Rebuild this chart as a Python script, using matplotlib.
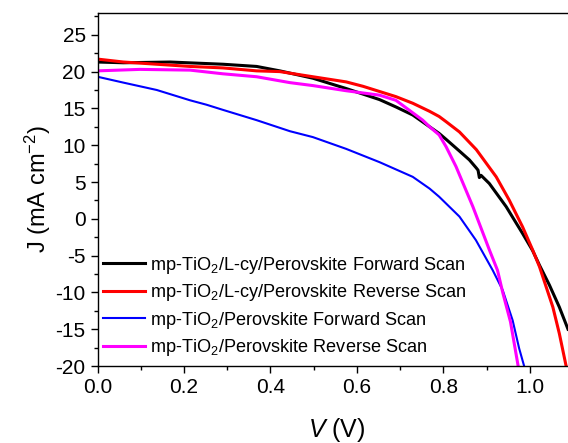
import matplotlib
matplotlib.use("Agg")
import matplotlib.pyplot as plt
from matplotlib.ticker import MultipleLocator

plt.rcParams['font.family'] = ['Liberation Sans', 'DejaVu Sans']
plt.rcParams['mathtext.fontset'] = 'custom'
plt.rcParams['mathtext.rm'] = 'Liberation Sans'
plt.rcParams['mathtext.it'] = 'Liberation Sans:italic'
plt.rcParams['axes.unicode_minus'] = False

# mp-TiO2/L-cy/Perovskite Forward Scan
v_lcy_fwd = [0.0, 0.06, 0.168, 0.29, 0.368, 0.4215, 0.498, 0.575, 0.652, 0.69, 0.729,
             0.768, 0.79, 0.806, 0.837, 0.86, 0.876, 0.880, 0.883, 0.887, 0.906, 0.945,
             0.983, 1.006, 1.022, 1.045, 1.068, 1.088]
j_lcy_fwd = [21.3, 21.2, 21.3, 21.0, 20.7, 20.1, 19.1, 17.7, 16.2, 15.2, 14.1,
             12.5, 11.6, 10.8, 9.2, 8.0, 6.9, 6.6, 5.6, 5.9, 4.8, 1.65,
             -2.0, -4.3, -6.3, -9.0, -12.0, -15.0]

# mp-TiO2/L-cy/Perovskite Reverse Scan
v_lcy_rev = [0.0, 0.06, 0.137, 0.214, 0.29, 0.368, 0.4215, 0.498, 0.575, 0.614, 0.652,
             0.69, 0.729, 0.768, 0.79, 0.806, 0.837, 0.876, 0.922, 0.952, 0.983, 1.006,
             1.022, 1.053, 1.068, 1.084]
j_lcy_rev = [21.7, 21.3, 21.0, 20.7, 20.5, 20.1, 20.0, 19.3, 18.6, 18.0, 17.3,
             16.6, 15.7, 14.6, 13.9, 13.2, 11.8, 9.4, 5.7, 2.55, -1.1, -4.2,
             -6.5, -12.0, -15.6, -20.1]

# mp-TiO2/Perovskite Forward Scan
v_ref_fwd = [0.0, 0.06, 0.137, 0.214, 0.252, 0.29, 0.368, 0.445, 0.498, 0.575, 0.652,
             0.729, 0.768, 0.79, 0.837, 0.875, 0.914, 0.937, 0.96, 0.975, 0.987]
j_ref_fwd = [19.3, 18.5, 17.5, 16.1, 15.5, 14.8, 13.4, 11.9, 11.1, 9.5, 7.7,
             5.7, 4.1, 3.0, 0.3, -2.9, -7.0, -9.7, -13.8, -17.6, -20.1]

# mp-TiO2/Perovskite Reverse Scan
v_ref_rev = [0.0, 0.098, 0.214, 0.29, 0.368, 0.445, 0.498, 0.575, 0.652, 0.69, 0.729,
             0.752, 0.768, 0.79, 0.806, 0.829, 0.868, 0.906, 0.925, 0.937, 0.955, 0.973]
j_ref_rev = [20.1, 20.3, 20.2, 19.7, 19.3, 18.5, 18.1, 17.4, 16.8, 16.1, 14.4,
             13.4, 12.5, 11.4, 9.8, 7.1, 1.65, -4.2, -7.0, -10.0, -14.0, -20.1]

labels = ["mp-TiO$_2$/L-cy/Perovskite Forward Scan",
          "mp-TiO$_2$/L-cy/Perovskite Reverse Scan",
          "mp-TiO$_2$/Perovskite Forward Scan",
          "mp-TiO$_2$/Perovskite Reverse Scan"]

fig = plt.figure(figsize=(5.68, 4.43), dpi=100)
ax = fig.add_axes([0.1717, 0.1738, 0.8283, 0.7975])

ax.plot(v_lcy_fwd, j_lcy_fwd, color="black", lw=2.2, label=labels[0])
ax.plot(v_lcy_rev, j_lcy_rev, color="#ff0000", lw=2.2, label=labels[1])
ax.plot(v_ref_fwd, j_ref_fwd, color="#0000ff", lw=1.5, label=labels[2])
ax.plot(v_ref_rev, j_ref_rev, color="#ff00ff", lw=2.2, label=labels[3])

ax.set_xlim(0, 1.088)
ax.set_ylim(-20, 28)
ax.xaxis.set_major_locator(MultipleLocator(0.2))
ax.xaxis.set_minor_locator(MultipleLocator(0.1))
ax.yaxis.set_major_locator(MultipleLocator(5))
ax.yaxis.set_minor_locator(MultipleLocator(2.5))
ax.xaxis.set_major_formatter(plt.FormatStrFormatter('%.1f'))
ax.tick_params(which='both', direction='out', labelsize=15, width=1)
ax.tick_params(which='major', length=5)
ax.tick_params(which='minor', length=3)
ax.spines['right'].set_visible(False)
for s in ['left', 'bottom', 'top']:
    ax.spines[s].set_linewidth(1)

ax.set_xlabel("$V$ (V)", fontsize=18)
ax.xaxis.set_label_coords(0.509, -0.142)
ax.set_ylabel("J (mA cm$^{-2}$)", fontsize=17, labelpad=2)

ax.legend(loc='lower left', bbox_to_anchor=(0.012, 0.022), frameon=False,
          fontsize=13.1, handlelength=2.3, handletextpad=0.28,
          labelspacing=0.36, borderpad=0, borderaxespad=0)

fig.savefig("out.png", dpi=100)
